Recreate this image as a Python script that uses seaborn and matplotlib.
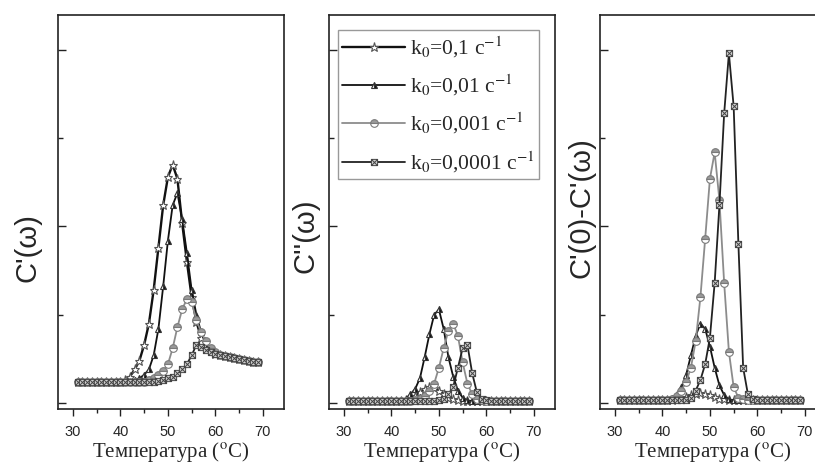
import seaborn as sns
from matplotlib import pyplot as plt
from matplotlib.path import Path
from matplotlib.ticker import MultipleLocator, NullFormatter

# temperature grid, deg C
temp = list(range(31, 70))

legend_labels = ['k$_0$=0,1 с$^{-1}$', 'k$_0$=0,01 с$^{-1}$',
                 'k$_0$=0,001 с$^{-1}$', 'k$_0$=0,0001 с$^{-1}$']
y_labels = ["C'(ω)", "C''(ω)", "C'(0)-C'(ω)"]
x_label = 'Температура ($^{\\rm o}$C)'
x_ticks = [30, 40, 50, 60, 70]

# C'(w), one list per k0
re_k1 = [0.12, 0.12, 0.12, 0.12, 0.12, 0.12, 0.12, 0.12, 0.12, 0.12,
         0.13, 0.15, 0.19, 0.24, 0.33, 0.45, 0.64, 0.88, 1.12, 1.28,
         1.35, 1.27, 1.02, 0.80, 0.60, 0.46, 0.37, 0.32, 0.30, 0.28,
         0.27, 0.265, 0.26, 0.255, 0.25, 0.245, 0.24, 0.235, 0.23]
re_k2 = [0.12, 0.12, 0.12, 0.12, 0.12, 0.12, 0.12, 0.12, 0.12, 0.12,
         0.12, 0.12, 0.13, 0.14, 0.16, 0.19, 0.27, 0.42, 0.66, 0.92,
         1.12, 1.19, 1.04, 0.85, 0.64, 0.50, 0.40, 0.33, 0.30, 0.28,
         0.27, 0.265, 0.26, 0.255, 0.25, 0.245, 0.24, 0.235, 0.23]
re_k3 = [0.12, 0.12, 0.12, 0.12, 0.12, 0.12, 0.12, 0.12, 0.12, 0.12,
         0.12, 0.12, 0.12, 0.12, 0.12, 0.13, 0.14, 0.16, 0.18, 0.22,
         0.31, 0.43, 0.53, 0.59, 0.57, 0.47, 0.40, 0.35, 0.31, 0.29,
         0.27, 0.265, 0.26, 0.255, 0.25, 0.245, 0.24, 0.235, 0.23]
re_k4 = [0.12, 0.12, 0.12, 0.12, 0.12, 0.12, 0.12, 0.12, 0.12, 0.12,
         0.12, 0.12, 0.12, 0.12, 0.12, 0.12, 0.12, 0.125, 0.13, 0.14,
         0.15, 0.17, 0.19, 0.22, 0.27, 0.33, 0.32, 0.30, 0.29, 0.28,
         0.27, 0.265, 0.26, 0.255, 0.25, 0.245, 0.24, 0.235, 0.23]

# C''(w)
im_k1 = [0.01, 0.01, 0.01, 0.01, 0.01, 0.01, 0.01, 0.01, 0.01, 0.01,
         0.01, 0.01, 0.015, 0.025, 0.04, 0.06, 0.08, 0.09, 0.085, 0.07,
         0.05, 0.03, 0.02, 0.015, 0.01, 0.01, 0.01, 0.01, 0.01, 0.01,
         0.01, 0.01, 0.01, 0.01, 0.01, 0.01, 0.01, 0.01, 0.01]
im_k2 = [0.01, 0.01, 0.01, 0.01, 0.01, 0.01, 0.01, 0.01, 0.01, 0.01,
         0.01, 0.015, 0.025, 0.05, 0.08, 0.14, 0.26, 0.39, 0.50, 0.53,
         0.42, 0.26, 0.15, 0.07, 0.03, 0.015, 0.01, 0.01, 0.01, 0.01,
         0.01, 0.01, 0.01, 0.01, 0.01, 0.01, 0.01, 0.01, 0.01]
im_k3 = [0.01, 0.01, 0.01, 0.01, 0.01, 0.01, 0.01, 0.01, 0.01, 0.01,
         0.01, 0.01, 0.01, 0.01, 0.015, 0.025, 0.04, 0.07, 0.11, 0.20,
         0.31, 0.41, 0.45, 0.38, 0.23, 0.11, 0.05, 0.025, 0.015, 0.01,
         0.01, 0.01, 0.01, 0.01, 0.01, 0.01, 0.01, 0.01, 0.01]
im_k4 = [0.01, 0.01, 0.01, 0.01, 0.01, 0.01, 0.01, 0.01, 0.01, 0.01,
         0.01, 0.01, 0.01, 0.01, 0.01, 0.01, 0.01, 0.01, 0.01, 0.015,
         0.025, 0.05, 0.09, 0.20, 0.31, 0.33, 0.17, 0.06, 0.025, 0.015,
         0.01, 0.01, 0.01, 0.01, 0.01, 0.01, 0.01, 0.01, 0.01]

# C'(0)-C'(w)
df_k1 = [0.015, 0.015, 0.015, 0.015, 0.015, 0.015, 0.015, 0.015, 0.015, 0.015,
         0.015, 0.015, 0.02, 0.025, 0.035, 0.045, 0.05, 0.055, 0.05, 0.045,
         0.035, 0.025, 0.02, 0.015, 0.015, 0.015, 0.015, 0.015, 0.015, 0.015,
         0.015, 0.015, 0.015, 0.015, 0.015, 0.015, 0.015, 0.015, 0.015]
df_k2 = [0.015, 0.015, 0.015, 0.015, 0.015, 0.015, 0.015, 0.015, 0.015, 0.015,
         0.02, 0.03, 0.05, 0.09, 0.16, 0.27, 0.38, 0.45, 0.42, 0.32,
         0.20, 0.10, 0.045, 0.02, 0.015, 0.015, 0.015, 0.015, 0.015, 0.015,
         0.015, 0.015, 0.015, 0.015, 0.015, 0.015, 0.015, 0.015, 0.015]
df_k3 = [0.015, 0.015, 0.015, 0.015, 0.015, 0.015, 0.015, 0.015, 0.015, 0.015,
         0.015, 0.025, 0.04, 0.07, 0.12, 0.20, 0.35, 0.60, 0.93, 1.27,
         1.42, 1.15, 0.68, 0.29, 0.09, 0.03, 0.02, 0.015, 0.015, 0.015,
         0.015, 0.015, 0.015, 0.015, 0.015, 0.015, 0.015, 0.015, 0.015]
df_k4 = [0.015, 0.015, 0.015, 0.015, 0.015, 0.015, 0.015, 0.015, 0.015, 0.015,
         0.015, 0.015, 0.015, 0.015, 0.015, 0.03, 0.07, 0.13, 0.22, 0.37,
         0.68, 1.12, 1.64, 1.98, 1.68, 0.90, 0.20, 0.05, 0.02, 0.015,
         0.015, 0.015, 0.015, 0.015, 0.015, 0.015, 0.015, 0.015, 0.015]

panels = [[re_k1, re_k2, re_k3, re_k4],
          [im_k1, im_k2, im_k3, im_k4],
          [df_k1, df_k2, df_k3, df_k4]]

# square with a cross inside, like the Origin marker
box_x = Path([(-1, -1), (1, -1), (1, 1), (-1, 1), (-1, -1),
              (-1, -1), (1, 1), (-1, 1), (1, -1)],
             [Path.MOVETO, Path.LINETO, Path.LINETO, Path.LINETO, Path.CLOSEPOLY,
              Path.MOVETO, Path.LINETO, Path.MOVETO, Path.LINETO])

styles = [
    dict(color='#111111', linewidth=1.7, marker='*', markersize=6.5,
         markerfacecolor='white', markeredgecolor='#555555', markeredgewidth=0.8),
    dict(color='#111111', linewidth=1.3, marker='^', markersize=5,
         fillstyle='right', markerfacecolor='#111111', markerfacecoloralt='white',
         markeredgecolor='#333333', markeredgewidth=0.8),
    dict(color='#8c8c8c', linewidth=1.3, marker='o', markersize=5.5,
         fillstyle='top', markerfacecolor='#9a9a9a', markerfacecoloralt='white',
         markeredgecolor='#7a7a7a', markeredgewidth=0.8),
    dict(color='#222222', linewidth=1.3, marker=box_x, markersize=4.5,
         markerfacecolor='#cfcfcf', markeredgecolor='#444444', markeredgewidth=0.7),
]

sns.set_style('ticks')
plt.rcParams['font.family'] = ['Liberation Sans', 'DejaVu Sans']
plt.rcParams['mathtext.fontset'] = 'stix'

fig = plt.figure(figsize=(8.15, 4.69), dpi=100)
lefts = [58 / 815, 329 / 815, 600 / 815]
label_pos = [(-0.137, 0.41), (-0.106, 0.44), (-0.084, 0.51)]

for idx, series in enumerate(panels):
    ax = fig.add_axes([lefts[idx], 60 / 469, 226 / 815, 394 / 469])
    for k, vals in enumerate(series):
        sns.lineplot(ax=ax, x=temp, y=vals, label=legend_labels[k],
                     legend=False, **styles[k])

    ax.set_xlim(26.85, 74.45)
    ax.set_ylim(-0.034, 2.198)
    ax.set_xticks(x_ticks)
    ax.xaxis.set_minor_locator(MultipleLocator(5))
    ax.yaxis.set_major_locator(MultipleLocator(1))
    ax.yaxis.set_minor_locator(MultipleLocator(0.5))
    ax.yaxis.set_major_formatter(NullFormatter())
    ax.tick_params(axis='x', which='major', direction='out', length=5, width=1,
                   labelsize=10.5, pad=6.5, color='#222222')
    ax.tick_params(axis='x', which='minor', direction='out', length=3, width=1,
                   color='#222222')
    ax.tick_params(axis='y', which='major', direction='in', length=6, width=1,
                   color='#222222')
    ax.tick_params(axis='y', which='minor', direction='in', length=3.5, width=1,
                   color='#222222')
    for sp in ax.spines.values():
        sp.set_color('#222222')
        sp.set_linewidth(1.2)

    ax.set_xlabel(x_label, family=['Liberation Serif'], fontsize=15, labelpad=1)
    ax.set_ylabel(y_labels[idx], fontsize=21, va='center')
    ax.yaxis.set_label_coords(*label_pos[idx])

    if idx == 1:
        leg = ax.legend(loc='upper left', bbox_to_anchor=(0.04, 0.962),
                        borderaxespad=0, handlelength=2.9, handletextpad=0.25,
                        labelspacing=0.6, borderpad=0.2, fancybox=False,
                        framealpha=1, edgecolor='#999999',
                        prop={'family': 'Liberation Serif', 'size': 15.5})
        leg.get_frame().set_linewidth(1.0)

fig.savefig('out.png', dpi=100)
